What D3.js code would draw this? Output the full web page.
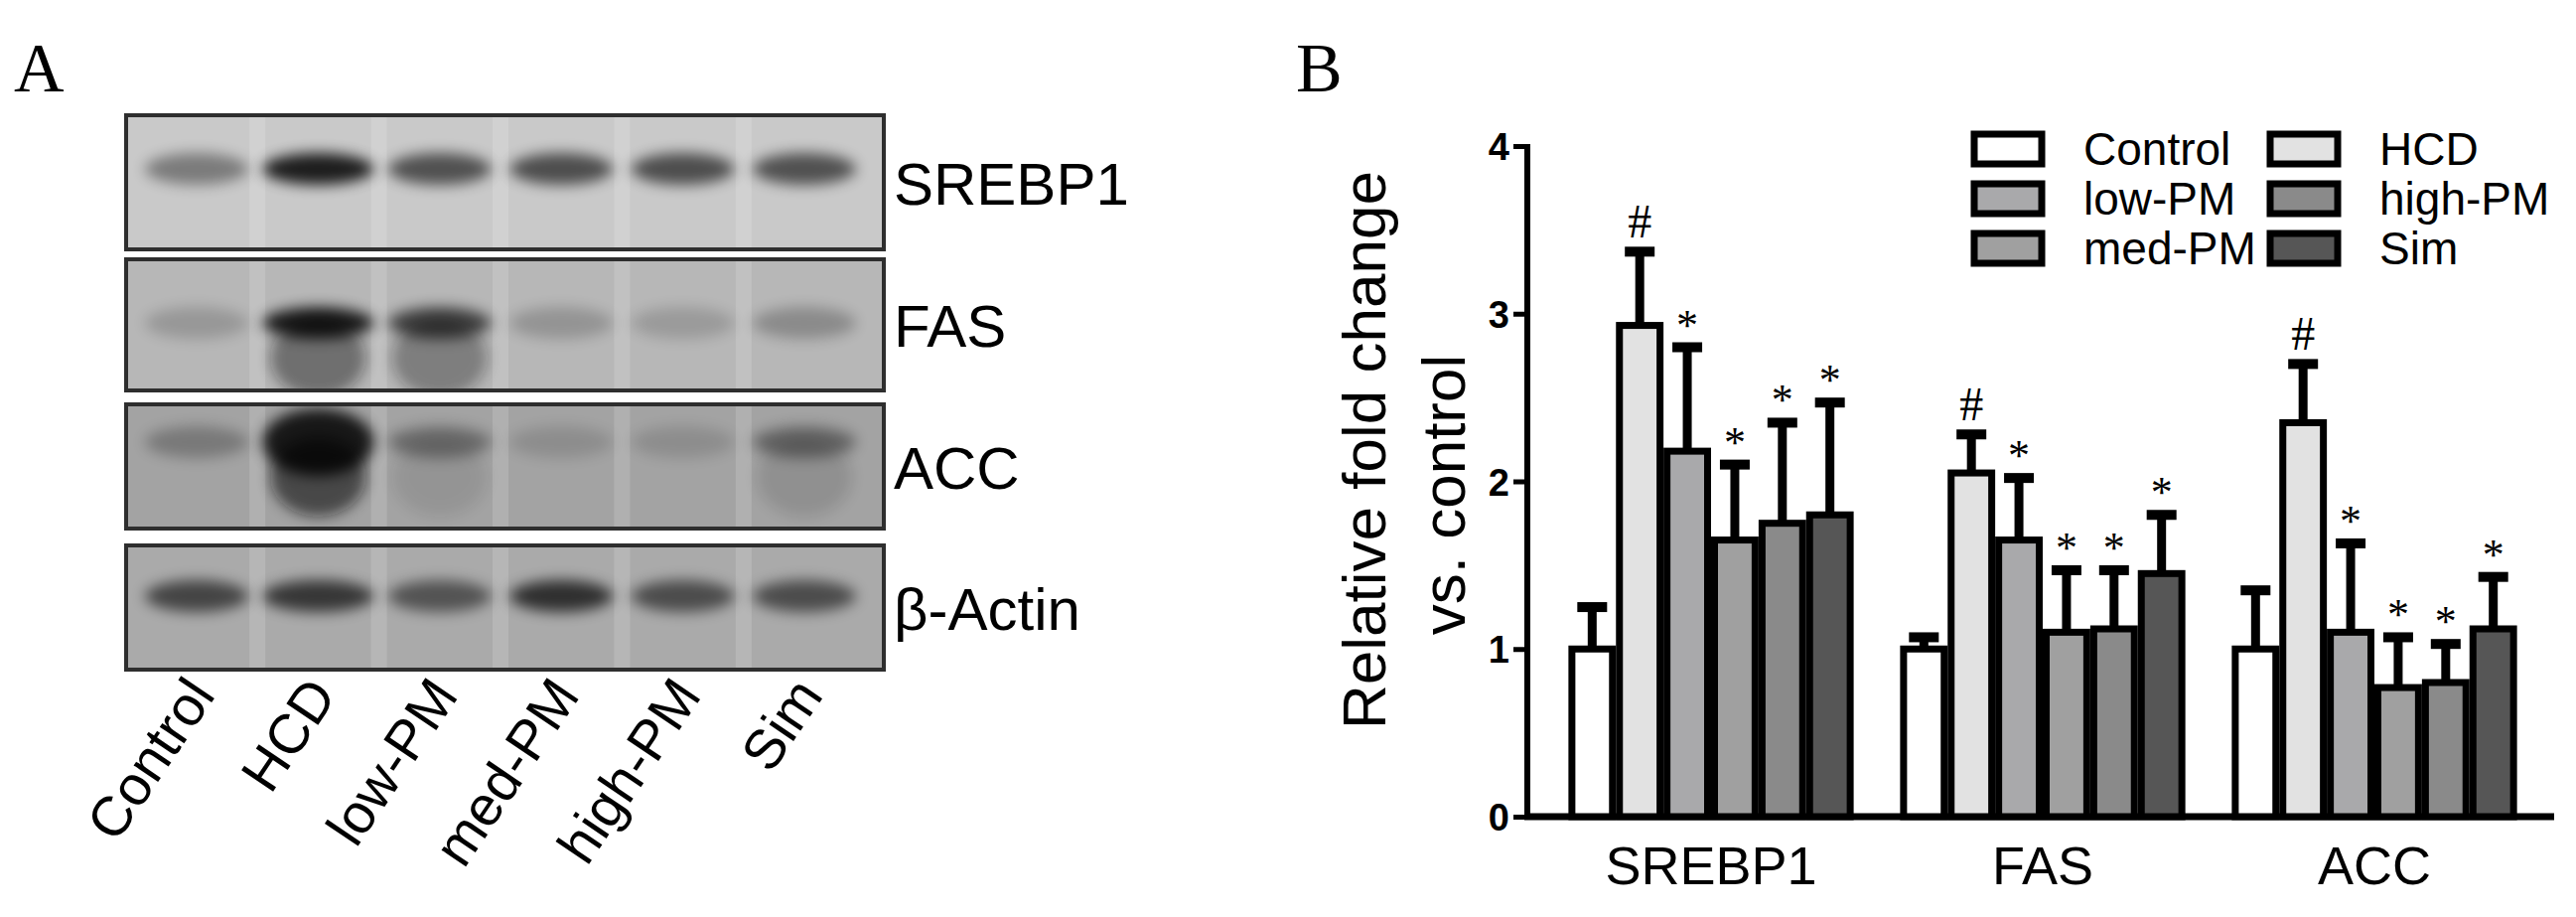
<!DOCTYPE html>
<html><head><meta charset="utf-8">
<script src="https://cdn.jsdelivr.net/npm/d3@7"></script>
<style>body{margin:0;background:#fff}svg{display:block}text{font-family:"Liberation Sans",Arial,sans-serif}</style>
</head><body><svg id="fig" width="2594" height="923"></svg>
<script>
// group names used in both panels
var groups = ["Control", "HCD", "low-PM", "med-PM", "high-PM", "Sim"];
var proteins = ["SREBP1", "FAS", "ACC"];
var blotRows = ["SREBP1", "FAS", "ACC", "β-Actin"];

// Panel A: band darkness per lane (0-1), read by eye
var bandSREBP1 = [0.45, 1.0, 0.7, 0.72, 0.72, 0.7];
var bandFAS = [0.2, 1.0, 0.75, 0.22, 0.18, 0.28];
var bandACC = [0.3, 1.0, 0.4, 0.15, 0.15, 0.45];
var bandActin = [0.7, 0.8, 0.6, 0.85, 0.65, 0.65];
var smearFAS = [0, 0.7, 0.55, 0, 0, 0];
var smearACC = [0, 1.0, 0.15, 0, 0, 0.2];

// Panel B: means and upper error (mean + SD)
var meanSREBP1 = [1.0, 2.93, 2.18, 1.65, 1.75, 1.8];
var errSREBP1 = [1.25, 3.37, 2.8, 2.1, 2.35, 2.47];
var meanFAS = [1.0, 2.05, 1.65, 1.1, 1.12, 1.45];
var errFAS = [1.07, 2.28, 2.02, 1.47, 1.47, 1.8];
var meanACC = [1.0, 2.35, 1.1, 0.77, 0.8, 1.12];
var errACC = [1.35, 2.7, 1.63, 1.07, 1.03, 1.43];
var marks = ["", "#", "*", "*", "*", "*"];
var yTicks = [0, 1, 2, 3, 4];

var fills = ["#ffffff", "#e2e2e2", "#a9a9ab", "#a0a0a0", "#8a8a8a", "#565656"];

var svg = d3.select("#fig");
var defs = svg.append("defs");
defs.append("filter").attr("id", "blur").attr("x", "-50%").attr("y", "-100%").attr("width", "200%").attr("height", "300%")
  .append("feGaussianBlur").attr("stdDeviation", 7);

// ---------- Panel A ----------
svg.append("text").attr("x", 14).attr("y", 92).attr("font-size", 70)
  .style("font-family", "'Liberation Serif','Times New Roman',serif").text("A");

var lane = d3.scalePoint().domain(groups).range([198, 810]);
var rowBoxes = [
  {name: "SREBP1", y0: 115, y1: 252, bg: "#c9c9c9", band: 170, bands: bandSREBP1, smear: null},
  {name: "FAS", y0: 260, y1: 394, bg: "#b7b7b7", band: 325, bands: bandFAS, smear: smearFAS},
  {name: "ACC", y0: 406, y1: 533, bg: "#a3a3a3", band: 445, bands: bandACC, smear: smearACC},
  {name: "β-Actin", y0: 548, y1: 675, bg: "#aaaaaa", band: 600, bands: bandActin, smear: null}
];

rowBoxes.forEach(function(r, i) {
  var clipId = "clip" + i;
  defs.append("clipPath").attr("id", clipId)
    .append("rect").attr("x", 126).attr("y", r.y0).attr("width", 765).attr("height", r.y1 - r.y0);
  var g = svg.append("g").attr("clip-path", "url(#" + clipId + ")");
  g.append("rect").attr("x", 126).attr("y", r.y0).attr("width", 765).attr("height", r.y1 - r.y0).attr("fill", r.bg);
  // light gaps between lanes
  g.selectAll(".gap").data(groups.slice(1)).enter().append("rect")
    .attr("x", function(d) { return lane(d) - lane.step() / 2 - 8; })
    .attr("y", r.y0).attr("width", 16).attr("height", r.y1 - r.y0)
    .attr("fill", "#ffffff").attr("opacity", 0.15);
  if (r.smear) {
    g.selectAll(".smear").data(r.smear).enter().append("ellipse")
      .attr("cx", function(d, j) { return lane(groups[j]); })
      .attr("cy", r.band + 35).attr("rx", 48).attr("ry", 40)
      .attr("fill", "#101010").attr("opacity", function(d) { return d * 0.6; })
      .attr("filter", "url(#blur)");
  }
  g.selectAll(".band").data(r.bands).enter().append("ellipse")
    .attr("cx", function(d, j) { return lane(groups[j]); })
    .attr("cy", r.band)
    .attr("rx", function(d, j) { return j == 1 ? 56 : 52; })
    .attr("ry", function(d, j) { return r.name == "ACC" && j == 1 ? 34 : 16; })
    .attr("fill", "#000").attr("opacity", function(d) { return d * 0.85; })
    .attr("filter", "url(#blur)");
  svg.append("rect").attr("x", 127).attr("y", r.y0 + 1).attr("width", 763).attr("height", r.y1 - r.y0 - 2)
    .attr("fill", "none").attr("stroke", "#2e2e2e").attr("stroke-width", 4);
  svg.append("text").attr("x", 900).attr("y", (r.y0 + r.y1) / 2 + 22)
    .attr("font-size", 60).text(r.name);
});

svg.selectAll(".laneLabel").data(groups).enter().append("text")
  .attr("text-anchor", "end").attr("font-size", 56)
  .attr("transform", function(d) { return "translate(" + (lane(d) + 20) + ",700) rotate(-56)"; })
  .text(function(d) { return d; });

// ---------- Panel B ----------
svg.append("text").attr("x", 1305).attr("y", 92).attr("font-size", 70)
  .style("font-family", "'Liberation Serif','Times New Roman',serif").text("B");

var y = d3.scaleLinear().domain([0, 4]).range([822, 147]);
var x0 = d3.scaleBand().domain(proteins).range([1556, 2558]).paddingInner(0.14).paddingOuter(0.07);
var x1 = d3.scaleBand().domain(groups).range([0, x0.bandwidth()]);

var yAxis = svg.append("g").attr("transform", "translate(1538,0)")
  .call(d3.axisLeft(y).tickValues(yTicks).tickSize(14).tickFormat(d3.format("d")));
yAxis.select(".domain").remove();
yAxis.selectAll("line").attr("stroke", "#000").attr("stroke-width", 5);
yAxis.selectAll("text").attr("font-size", 38).attr("font-weight", "bold").attr("x", -18).attr("dy", "0.36em")
  .style("font-family", "'Liberation Sans Narrow','Liberation Sans',Arial,sans-serif");
svg.append("line").attr("x1", 1538).attr("x2", 1538).attr("y1", 145).attr("y2", 825)
  .attr("stroke", "#000").attr("stroke-width", 6);
svg.append("line").attr("x1", 1535).attr("x2", 2572).attr("y1", 822).attr("y2", 822)
  .attr("stroke", "#000").attr("stroke-width", 7);

svg.append("text").attr("text-anchor", "middle").attr("font-size", 62)
  .attr("transform", "translate(1395,453) rotate(-90)").text("Relative fold change");
svg.append("text").attr("text-anchor", "middle").attr("font-size", 62)
  .attr("transform", "translate(1475,498) rotate(-90)").text("vs. control");

var means = [meanSREBP1, meanFAS, meanACC];
var errs = [errSREBP1, errFAS, errACC];

proteins.forEach(function(p, pi) {
  var g = svg.append("g").attr("transform", "translate(" + x0(p) + ",0)");
  var rows = groups.map(function(gname, i) {
    return {g: gname, v: means[pi][i], e: errs[pi][i], fill: fills[i], mark: marks[i]};
  });
  // error bars behind bars
  g.selectAll(".stem").data(rows).enter().append("line")
    .attr("x1", function(d) { return x1(d.g) + x1.bandwidth() / 2; })
    .attr("x2", function(d) { return x1(d.g) + x1.bandwidth() / 2; })
    .attr("y1", function(d) { return y(d.v); }).attr("y2", function(d) { return y(d.e); })
    .attr("stroke", "#000").attr("stroke-width", 9);
  g.selectAll(".cap").data(rows).enter().append("rect")
    .attr("x", function(d) { return x1(d.g) + x1.bandwidth() / 2 - 15; })
    .attr("y", function(d) { return y(d.e) - 5; })
    .attr("width", 30).attr("height", 10).attr("fill", "#000");
  g.selectAll(".bar").data(rows).enter().append("rect")
    .attr("x", function(d) { return x1(d.g) + 3.5; })
    .attr("y", function(d) { return y(d.v); })
    .attr("width", x1.bandwidth() - 7)
    .attr("height", function(d) { return y(0) - y(d.v); })
    .attr("fill", function(d) { return d.fill; })
    .attr("stroke", "#000").attr("stroke-width", 7);
  g.selectAll(".mark").data(rows).enter().append("text")
    .attr("x", function(d) { return x1(d.g) + x1.bandwidth() / 2; })
    .attr("y", function(d) { return y(d.e) - (d.mark == "#" ? 14 : 8); })
    .attr("text-anchor", "middle")
    .attr("font-size", function(d) { return d.mark == "#" ? 48 : 44; })
    .style("font-family", "'Liberation Serif','Times New Roman',serif")
    .text(function(d) { return d.mark; });
  svg.append("text").attr("x", x0(p) + x0.bandwidth() / 2).attr("y", 890)
    .attr("text-anchor", "middle").attr("font-size", 54).text(p);
});

// legend: two columns
var legend = svg.selectAll(".leg").data(groups).enter().append("g")
  .attr("transform", function(d, i) {
    var col = [0, 1, 0, 0, 1, 1][i], row = [0, 0, 1, 2, 1, 2][i];
    return "translate(" + (1988 + col * 298) + "," + (150 + row * 50) + ")";
  });
legend.append("rect").attr("x", 0).attr("y", -15).attr("width", 68).attr("height", 30)
  .attr("fill", function(d, i) { return fills[i]; }).attr("stroke", "#000").attr("stroke-width", 7);
legend.append("text").attr("x", 110).attr("y", 16).attr("font-size", 46).text(function(d) { return d; });
</script></body></html>
